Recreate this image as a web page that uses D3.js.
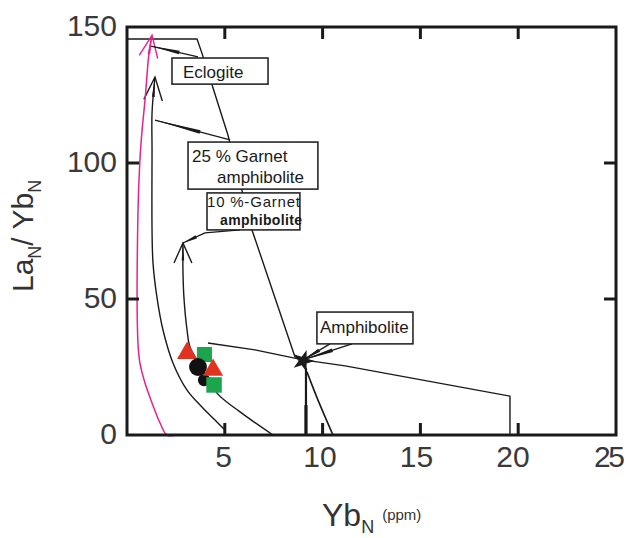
<!DOCTYPE html>
<html><head><meta charset="utf-8">
<script src="https://cdn.jsdelivr.net/npm/d3@7"></script>
<style>html,body{margin:0;padding:0;background:#fff;}svg{display:block;font-family:"Liberation Sans",Arial,sans-serif;}</style>
</head><body><svg id="c" width="627" height="538"></svg>
<script>
// ---- data (Yb_N, La_N/Yb_N) ----
const xTicks = [0, 5, 10, 15, 20, 25];
const yTicks = [0, 50, 100, 150];
const xTickLabels = ["", "5", "10", "15", "20", "25"];
const yTickLabels = ["0", "50", "100", "150"];

const magentaX = [2.56, 2.04, 1.69, 1.28, 0.92, 0.66, 0.56, 0.56, 0.66, 0.77, 0.92, 1.12, 1.28];
const magentaY = [0, 0, 4.4, 11.8, 19.1, 26.5, 33.8, 81.6, 101, 112, 123, 140, 147];

const garnet25X = [5.01, 4.5, 3.83, 3.07, 2.35, 1.84, 1.53, 1.33, 1.28, 1.28, 1.28, 1.43];
const garnet25Y = [1.8, 5.5, 10.3, 16.5, 26.5, 38.6, 50.7, 63.2, 75.4, 104.8, 118.4, 131.6];

const garnet10X = [7.46, 5.78, 4.6, 3.73, 3.22, 3.07, 2.91, 2.86, 2.86];
const garnet10Y = [0, 8.5, 15.4, 25.7, 32.4, 38.6, 50.7, 60.7, 70.6];

const eclogiteX = [0, 3.58, 3.83, 4.35, 5.16, 6.39, 8.59, 9.0];
const eclogiteY = [145.6, 145.6, 140.4, 128.7, 110.3, 75.4, 28.7, 27.6];

const amphLineX = [4.14, 6.54, 9.0, 11.15, 19.58, 19.58];
const amphLineY = [33.8, 31.3, 27.6, 25.4, 14.3, 0];

const amphVertX = [9.15, 9.15];
const amphVertY = [24.6, 0];

const amphMeltX = [9.2, 9.76, 10.53];
const amphMeltY = [23.2, 12.9, 0];

const amphPoint = [9.0, 27.2];

const triX = [3.07, 4.40], triY = [30.1, 23.9];
const sqX = [3.96, 4.45], sqY = [29.6, 18.4];
const circX = [3.63, 3.94], circY = [25.0, 20.2];

// annotation boxes: [x0, x1, yTop, yBottom] in data units
const boxEclogite = [2.30, 7.21, 138.6, 129.0];
const box25 = [3.12, 9.76, 107.7, 90.4];
const box10 = [4.09, 8.84, 89.0, 75.4];
const boxAmph = [9.71, 14.62, 45.2, 33.5];

// leaders: arrays of [x,y] data points, first point is the target
const leaderEclogite = [[1.23, 143.0], [3.63, 139.0]];
const leader25 = [[1.43, 115.8], [5.27, 108.5]];
const leader10 = [[2.86, 70.6], [3.99, 74.3], [5.78, 75.4]];
const leaderAmph1 = [[9.0, 27.6], [10.38, 33.5]];
const leaderAmph2 = [[9.0, 27.6], [11.5, 33.5]];

// ---- drawing ----
const svg = d3.select("#c");
const x = d3.scaleLinear().domain([0, 25]).range([127, 616]);
const y = d3.scaleLinear().domain([0, 150]).range([435, 27]);
const ink = "#1a1a1a";

const zip = (xs, ys) => xs.map((v, i) => [v, ys[i]]);
const smooth = d3.line().x(d => x(d[0])).y(d => y(d[1])).curve(d3.curveCatmullRom.alpha(0.5));
const straight = d3.line().x(d => x(d[0])).y(d => y(d[1]));

function path(pts, gen, color, w) {
  svg.append("path").attr("d", gen(pts)).attr("fill", "none")
    .attr("stroke", color).attr("stroke-width", w).attr("stroke-linejoin", "round");
}
function arrowHead(pts, color, len, half) {
  const n = pts.length;
  const tx = x(pts[n - 1][0]), ty = y(pts[n - 1][1]);
  const px = x(pts[n - 2][0]), py = y(pts[n - 2][1]);
  const ang = Math.atan2(py - ty, px - tx);
  const b = [ang - half, ang + half].map(a => [tx + len * Math.cos(a), ty + len * Math.sin(a)]);
  svg.append("path").attr("d", `M${b[0][0]},${b[0][1]}L${tx},${ty}L${b[1][0]},${b[1][1]}`)
    .attr("fill", "none").attr("stroke", color).attr("stroke-width", 1.4);
  const c = [ang - 0.07, ang + 0.07].map(a => [tx + len * 0.8 * Math.cos(a), ty + len * 0.8 * Math.sin(a)]);
  svg.append("path").attr("d", `M${tx},${ty}L${c[0][0]},${c[0][1]}L${c[1][0]},${c[1][1]}Z`).attr("fill", color);
}
function leader(pts) {
  path(pts, straight, ink, 1.3);
  const x0 = x(pts[0][0]), y0 = y(pts[0][1]), x1 = x(pts[1][0]), y1 = y(pts[1][1]);
  const a = Math.atan2(y1 - y0, x1 - x0), L = Math.hypot(x1 - x0, y1 - y0) * 0.6;
  const n = [-Math.sin(a), Math.cos(a)];
  const e = [x0 + L * Math.cos(a), y0 + L * Math.sin(a)];
  svg.append("path").attr("d", `M${x0},${y0}L${e[0] + n[0] * 1.8},${e[1] + n[1] * 1.8}L${e[0] - n[0] * 1.8},${e[1] - n[1] * 1.8}Z`).attr("fill", ink);
}

// curves
path(zip(eclogiteX, eclogiteY), straight, ink, 1.4);
path(zip(amphLineX, amphLineY), straight, ink, 1.4);
path(zip(amphVertX, amphVertY), straight, ink, 2.2);
path([[amphVertX[0], 11], [amphVertX[0], 0]], straight, ink, 3.2);
path(zip(amphMeltX, amphMeltY), smooth, ink, 1.6);
const g25 = zip(garnet25X, garnet25Y), g10 = zip(garnet10X, garnet10Y), mg = zip(magentaX, magentaY);
path(g25, smooth, ink, 1.4);
arrowHead(g25, ink, 25, 0.38);
path(g10, smooth, ink, 1.4);
arrowHead(g10, ink, 22, 0.42);
path(mg, smooth, "#e8218f", 1.5);
arrowHead(mg, "#e8218f", 24, 0.4);

// leaders
[leaderEclogite, leader25, leader10, leaderAmph1, leaderAmph2].forEach(leader);

// amphibolite point
svg.append("path").attr("d", d3.symbol().type(d3.symbolStar).size(150)())
  .attr("transform", `translate(${x(amphPoint[0])},${y(amphPoint[1])}) rotate(18)`).attr("fill", ink);

// data markers (drawn in overlap order)
const sym = (type, size) => d3.symbol().type(type).size(size)();
const red = "#e1321f", green = "#1da54d";
function mark(type, size, color, px, py) {
  svg.append("path").attr("d", sym(type, size)).attr("fill", color)
    .attr("transform", `translate(${x(px)},${y(py)})`);
}
mark(d3.symbolSquare, 225, green, sqX[0], sqY[0]);
mark(d3.symbolTriangle, 175, red, triX[0], triY[0]);
mark(d3.symbolCircle, 250, "#111", circX[0], circY[0]);
mark(d3.symbolCircle, 120, "#111", circX[1], circY[1]);
mark(d3.symbolTriangle, 175, red, triX[1], triY[1]);
mark(d3.symbolSquare, 240, green, sqX[1], sqY[1]);

// annotation boxes
function box(b, lines) {
  const bx = x(b[0]), by = y(b[2]), w = x(b[1]) - x(b[0]), h = y(b[3]) - y(b[2]);
  svg.append("rect").attr("x", bx).attr("y", by).attr("width", w).attr("height", h)
    .attr("fill", "#fff").attr("stroke", ink).attr("stroke-width", 1.5);
  lines.forEach(l => {
    svg.append("text").attr("x", bx + l.dx).attr("y", by + l.dy)
      .attr("font-size", l.size).attr("font-weight", l.bold ? "bold" : "normal")
      .attr("fill", ink).attr("textLength", l.len || null).text(l.t);
  });
}
box(boxEclogite, [{ t: "Eclogite", dx: 11, dy: 20, size: 17 }]);
box(box25, [{ t: "25 % Garnet", dx: 4, dy: 20, size: 17 }, { t: "amphibolite", dx: 29, dy: 41, size: 17 }]);
box(box10, [{ t: "10 %-Garnet", dx: 0, dy: 14, size: 15, len: 93 }, { t: "amphibolite", dx: 13, dy: 32, size: 14, bold: true, len: 82 }]);
box(boxAmph, [{ t: "Amphibolite", dx: 3, dy: 21, size: 17 }]);

// frame and ticks
svg.append("rect").attr("x", x(0)).attr("y", y(150)).attr("width", x(25) - x(0)).attr("height", y(0) - y(150))
  .attr("fill", "none").attr("stroke", ink).attr("stroke-width", 3);
const tl = 12;
xTicks.slice(1, -1).forEach(t => {
  svg.append("line").attr("x1", x(t)).attr("x2", x(t)).attr("y1", y(0)).attr("y2", y(0) - tl).attr("stroke", ink).attr("stroke-width", 3);
  svg.append("line").attr("x1", x(t)).attr("x2", x(t)).attr("y1", y(150)).attr("y2", y(150) + tl).attr("stroke", ink).attr("stroke-width", 3);
});
yTicks.slice(1, -1).forEach(t => {
  svg.append("line").attr("y1", y(t)).attr("y2", y(t)).attr("x1", x(0)).attr("x2", x(0) + tl).attr("stroke", ink).attr("stroke-width", 3);
  svg.append("line").attr("y1", y(t)).attr("y2", y(t)).attr("x1", x(25)).attr("x2", x(25) - tl).attr("stroke", ink).attr("stroke-width", 3);
});
xTicks.forEach((t, i) => {
  if (!xTickLabels[i]) return;
  svg.append("text").attr("x", x(t) - t * 0.26).attr("y", 467).attr("text-anchor", "middle")
    .attr("font-size", 30).attr("fill", "#3a3a3a").attr("textLength", i === 5 ? 31 : null).text(xTickLabels[i]);
});
yTicks.forEach((t, i) => {
  svg.append("text").attr("x", 117).attr("y", y(t) + 9).attr("text-anchor", "end")
    .attr("font-size", 30).attr("fill", "#3a3a3a").text(yTickLabels[i]);
});

// axis titles
const xt = svg.append("text").attr("x", 322).attr("y", 526).attr("font-size", 32).attr("fill", "#333");
xt.append("tspan").text("Yb");
xt.append("tspan").attr("font-size", 18).attr("dy", 7).text("N");
xt.append("tspan").attr("font-size", 15).attr("dy", -13).attr("dx", 8).text("(ppm)");

const yt = svg.append("text").attr("transform", "translate(33,292) rotate(-90)").attr("font-size", 30).attr("fill", "#333");
yt.append("tspan").text("La");
yt.append("tspan").attr("font-size", 18).attr("dy", 8).text("N");
yt.append("tspan").attr("dy", -8).text("/ Yb");
yt.append("tspan").attr("font-size", 18).attr("dy", 8).text("N");
</script></body></html>
